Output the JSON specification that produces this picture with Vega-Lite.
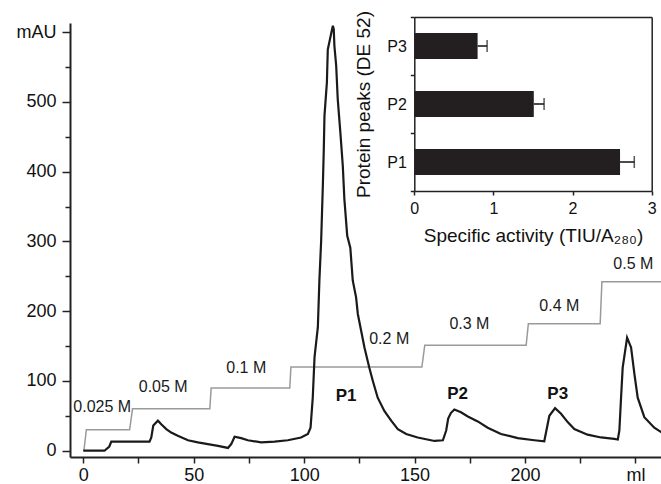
{
  "$schema": "https://vega.github.io/schema/vega-lite/v6.json",
  "padding": {"left": 16, "top": 10, "right": 0, "bottom": 0},
  "background": "white",
  "width": 592,
  "height": 434,
  "config": {
    "font": "Liberation Sans",
    "view": {"stroke": null},
    "axis": {
      "grid": false,
      "domainColor": "#222222",
      "tickColor": "#222222",
      "labelColor": "#111111",
      "titleColor": "#111111",
      "labelFont": "Liberation Sans",
      "titleFont": "Liberation Sans",
      "titleFontWeight": "normal"
    }
  },
  "datasets": {
    "trace": [
      {"ml": 0, "mAU": 0}, {"ml": 9.6, "mAU": 0}, {"ml": 11.8, "mAU": 6}, {"ml": 12.7, "mAU": 13},
      {"ml": 30, "mAU": 13}, {"ml": 30.8, "mAU": 19}, {"ml": 31.7, "mAU": 36}, {"ml": 33.8, "mAU": 43},
      {"ml": 35.3, "mAU": 38}, {"ml": 37.6, "mAU": 31}, {"ml": 39.8, "mAU": 26}, {"ml": 42.8, "mAU": 21.5},
      {"ml": 47.4, "mAU": 15}, {"ml": 51.9, "mAU": 12}, {"ml": 56.4, "mAU": 9.5}, {"ml": 61, "mAU": 7},
      {"ml": 65.5, "mAU": 4}, {"ml": 67, "mAU": 9.5}, {"ml": 68.5, "mAU": 20}, {"ml": 71.5, "mAU": 18},
      {"ml": 74.5, "mAU": 15}, {"ml": 80.5, "mAU": 12}, {"ml": 86.6, "mAU": 13}, {"ml": 92.6, "mAU": 15},
      {"ml": 98.6, "mAU": 19}, {"ml": 101.7, "mAU": 24}, {"ml": 102.9, "mAU": 33}, {"ml": 103.9, "mAU": 76},
      {"ml": 104.7, "mAU": 134}, {"ml": 106.2, "mAU": 177}, {"ml": 106.9, "mAU": 244}, {"ml": 107.7, "mAU": 301},
      {"ml": 108.5, "mAU": 384}, {"ml": 108.9, "mAU": 433}, {"ml": 109.2, "mAU": 480}, {"ml": 110.3, "mAU": 528},
      {"ml": 110.7, "mAU": 575}, {"ml": 112.5, "mAU": 602}, {"ml": 113, "mAU": 609}, {"ml": 113.4, "mAU": 604},
      {"ml": 113.7, "mAU": 580}, {"ml": 114.5, "mAU": 552}, {"ml": 115.2, "mAU": 504}, {"ml": 116.4, "mAU": 456},
      {"ml": 117.5, "mAU": 408}, {"ml": 118.2, "mAU": 361}, {"ml": 119.5, "mAU": 308}, {"ml": 120.9, "mAU": 291},
      {"ml": 122, "mAU": 244}, {"ml": 123.5, "mAU": 220}, {"ml": 124.3, "mAU": 196}, {"ml": 125.8, "mAU": 172},
      {"ml": 127.3, "mAU": 148}, {"ml": 129.5, "mAU": 119}, {"ml": 131.1, "mAU": 100}, {"ml": 133.3, "mAU": 76},
      {"ml": 136.3, "mAU": 57}, {"ml": 139.4, "mAU": 43}, {"ml": 142.4, "mAU": 31}, {"ml": 146.2, "mAU": 24},
      {"ml": 151.4, "mAU": 19}, {"ml": 159, "mAU": 14}, {"ml": 162.8, "mAU": 15}, {"ml": 164.3, "mAU": 29},
      {"ml": 165.2, "mAU": 46}, {"ml": 166.4, "mAU": 54}, {"ml": 168, "mAU": 59}, {"ml": 171, "mAU": 55},
      {"ml": 174.1, "mAU": 49}, {"ml": 178.6, "mAU": 42}, {"ml": 183.1, "mAU": 33}, {"ml": 189.1, "mAU": 24},
      {"ml": 196.7, "mAU": 18}, {"ml": 204.2, "mAU": 15}, {"ml": 208.7, "mAU": 13.5}, {"ml": 210.3, "mAU": 39},
      {"ml": 211, "mAU": 50}, {"ml": 213.6, "mAU": 61}, {"ml": 216.3, "mAU": 53}, {"ml": 219.3, "mAU": 41},
      {"ml": 222.3, "mAU": 31}, {"ml": 228.3, "mAU": 23}, {"ml": 234.4, "mAU": 19}, {"ml": 240.4, "mAU": 17},
      {"ml": 242, "mAU": 16}, {"ml": 242.7, "mAU": 29}, {"ml": 243.4, "mAU": 72}, {"ml": 244.2, "mAU": 119},
      {"ml": 246.2, "mAU": 162}, {"ml": 248, "mAU": 148}, {"ml": 249.5, "mAU": 110}, {"ml": 251, "mAU": 76},
      {"ml": 254, "mAU": 48}, {"ml": 258.5, "mAU": 33}, {"ml": 262, "mAU": 26}
    ],
    "gradient": [
      {"ml": 0.3, "mAU": 0}, {"ml": 1.4, "mAU": 30}, {"ml": 21.0, "mAU": 30}, {"ml": 22.3, "mAU": 60},
      {"ml": 57.3, "mAU": 60}, {"ml": 57.9, "mAU": 90}, {"ml": 93.5, "mAU": 90}, {"ml": 94.0, "mAU": 120},
      {"ml": 153.3, "mAU": 120}, {"ml": 154.6, "mAU": 151}, {"ml": 200.5, "mAU": 151}, {"ml": 201.5, "mAU": 182},
      {"ml": 234.0, "mAU": 182}, {"ml": 234.8, "mAU": 242}, {"ml": 262, "mAU": 242}
    ],
    "saltLabels": [
      {"ml": 8.6, "mAU": 63, "label": "0.025 M"},
      {"ml": 36.2, "mAU": 92, "label": "0.05 M"},
      {"ml": 73.8, "mAU": 119, "label": "0.1 M"},
      {"ml": 138.5, "mAU": 160, "label": "0.2 M"},
      {"ml": 174.8, "mAU": 182, "label": "0.3 M"},
      {"ml": 215.5, "mAU": 208, "label": "0.4 M"},
      {"ml": 249, "mAU": 268, "label": "0.5 M"}
    ],
    "peakLabels": [
      {"ml": 119, "mAU": 79, "label": "P1"},
      {"ml": 169.5, "mAU": 81, "label": "P2"},
      {"ml": 214.8, "mAU": 81, "label": "P3"}
    ],
    "activity": [
      {"peak": "P1", "activity": 2.60, "upper": 2.78},
      {"peak": "P2", "activity": 1.51, "upper": 1.64},
      {"peak": "P3", "activity": 0.80, "upper": 0.92}
    ]
  },
  "layer": [
    {
      "encoding": {
        "x": {
          "field": "ml", "type": "quantitative",
          "scale": {"domain": [-6, 262], "nice": false, "zero": false},
          "axis": {
            "orient": "bottom",
            "title": null,
            "values": [0, 25, 50, 75, 100, 125, 150, 175, 200, 225, 250],
            "labelExpr": "datum.value % 50 === 0 ? (datum.value === 250 ? 'ml' : datum.label) : ''",
            "labelFontSize": 18,
            "labelPadding": 3,
            "tickSize": 6,
            "tickWidth": 1.5,
            "domainWidth": 2,
            "labelOverlap": false,
            "labelFlush": false
          }
        },
        "y": {
          "field": "mAU", "type": "quantitative",
          "scale": {"domain": [-9, 613], "nice": false, "zero": false},
          "axis": {
            "orient": "left",
            "title": null,
            "values": [0, 50, 100, 150, 200, 250, 300, 350, 400, 450, 500, 550, 600],
            "labelExpr": "datum.value % 100 === 0 ? (datum.value === 600 ? 'mAU' : datum.label) : ''",
            "labelFontSize": 18,
            "labelPadding": 6,
            "tickSize": {"condition": {"test": "datum.value % 100 === 0", "value": 8}, "value": 5},
            "tickWidth": 1.5,
            "domainWidth": 2,
            "labelOverlap": false
          }
        }
      },
      "layer": [
        {
          "data": {"name": "gradient"},
          "mark": {"type": "line", "color": "#9a9a9a", "strokeWidth": 1.5}
        },
        {
          "data": {"name": "trace"},
          "mark": {"type": "line", "color": "#1a1a1a", "strokeWidth": 2.2}
        },
        {
          "data": {"name": "saltLabels"},
          "mark": {"type": "text", "fontSize": 16, "color": "#1a1a1a", "align": "center", "baseline": "middle"},
          "encoding": {"text": {"field": "label"}}
        },
        {
          "data": {"name": "peakLabels"},
          "mark": {"type": "text", "fontSize": 17, "fontWeight": "bold", "color": "#111111", "align": "center", "baseline": "middle"},
          "encoding": {"text": {"field": "label"}}
        }
      ]
    },
    {
      "data": {"name": "activity"},
      "encoding": {
        "y": {
          "field": "peak", "type": "nominal",
          "sort": ["P3", "P2", "P1"],
          "scale": {"range": [-6, 168], "paddingInner": 0, "paddingOuter": 0},
          "axis": {
            "orient": "left",
            "offset": -344.3,
            "title": "Protein peaks (DE 52)",
            "titleFontSize": 19,
            "titlePadding": 13,
            "tickBand": "extent",
            "labelFontSize": 16,
            "labelPadding": 4,
            "tickSize": 4,
            "tickWidth": 1.5,
            "domainWidth": 1.5,
            "labelAngle": 0
          }
        }
      },
      "layer": [
        {
          "mark": {"type": "bar", "color": "#231f20", "height": {"band": 0.45}},
          "encoding": {
            "x": {
              "field": "activity", "type": "quantitative",
              "scale": {"domain": [0, 3], "nice": false, "range": [344.3, 581.7]},
              "axis": {
                "orient": "bottom",
                "offset": -266,
                "title": "Specific activity (TIU/A₂₈₀)",
                "titleFontSize": 19,
                "titlePadding": 10,
                "values": [0, 1, 2, 3],
                "format": "d",
                "labelFontSize": 16,
                "labelPadding": 5,
                "tickSize": 4,
                "tickWidth": 1.5,
                "domainWidth": 1.5,
                "labelFlush": false
              }
            }
          }
        },
        {
          "mark": {"type": "rule", "color": "#111111", "strokeWidth": 1.5},
          "encoding": {
            "x": {"field": "activity", "type": "quantitative"},
            "x2": {"field": "upper"}
          }
        },
        {
          "mark": {"type": "tick", "color": "#111111", "thickness": 1.5, "size": 12},
          "encoding": {
            "x": {"field": "upper", "type": "quantitative"}
          }
        }
      ]
    },
    {
      "data": {"name": "activity"},
      "mark": {"type": "point", "opacity": 0, "clip": true},
      "encoding": {
        "x": {
          "field": "activity", "type": "quantitative",
          "scale": {"domain": [0, 3], "nice": false, "zero": false, "range": [344.3, 581.7]},
          "axis": {"orient": "top", "offset": 6, "labels": false, "ticks": false, "title": null, "domainWidth": 1.5}
        },
        "y": {
          "field": "activity", "type": "quantitative",
          "scale": {"domain": [0, 3], "nice": false, "zero": false, "range": [168, -6]},
          "axis": {"orient": "right", "offset": -10.3, "labels": false, "ticks": false, "title": null, "domainWidth": 1.5}
        }
      }
    }
  ],
  "resolve": {"scale": {"x": "independent", "y": "independent"}}
}
